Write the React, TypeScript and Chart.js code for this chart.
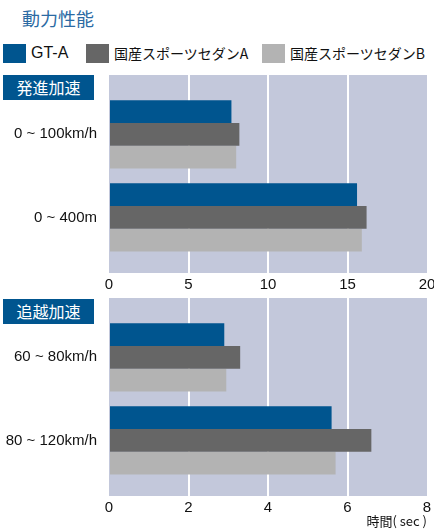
import React, { useEffect, useRef } from "react";
import { Chart, registerables } from "chart.js";

Chart.register(...registerables);

// Series names and colours
const seriesNames = ["GT-A", "国産スポーツセダンA", "国産スポーツセダンB"];
const seriesColors = ["#00558f", "#666666", "#b3b3b3"];

// 発進加速 (sec)
const startLabels = ["0 ~ 100km/h", "0 ~ 400m"];
const startGTA = [7.7, 15.6];
const startSedanA = [8.2, 16.2];
const startSedanB = [8.0, 15.9];
const startTicksMax = 20;
const startTickStep = 5;

// 追越加速 (sec)
const passLabels = ["60 ~ 80km/h", "80 ~ 120km/h"];
const passGTA = [2.9, 5.6];
const passSedanA = [3.3, 6.6];
const passSedanB = [2.95, 5.7];
const passTicksMax = 8;
const passTickStep = 2;

// Index-axis range: leaves the uneven margins above and below the two groups
const INDEX_MIN = -0.715;
const INDEX_MAX = 1.67;

const FONT = "'Liberation Sans', 'Noto Sans CJK JP', sans-serif";
const JP_FONT = "'Noto Sans CJK JP', 'Liberation Sans', sans-serif";

const plotBackground = {
  id: "plotBackground",
  beforeDraw(chart: any) {
    const { ctx, chartArea } = chart;
    ctx.save();
    ctx.fillStyle = "#c3c8db";
    ctx.fillRect(chartArea.left, chartArea.top, chartArea.right - chartArea.left, chartArea.bottom - chartArea.top);
    ctx.restore();
  },
};

type BarPanelProps = {
  labels: string[];
  series: number[][];
  max: number;
  step: number;
  top: number;
};

function BarPanel({ labels, series, max, step, top }: BarPanelProps) {
  const ref = useRef<HTMLCanvasElement | null>(null);

  useEffect(() => {
    if (!ref.current) return;
    const chart = new Chart(ref.current, {
      type: "bar",
      data: {
        datasets: series.map((vals, s) => ({
          label: seriesNames[s],
          data: vals.map((v, i) => ({ x: v, y: i })),
          backgroundColor: seriesColors[s],
          borderWidth: 0,
          categoryPercentage: 0.82,
          barPercentage: 1.0,
        })),
      },
      options: {
        indexAxis: "y",
        animation: false,
        responsive: false,
        events: [],
        layout: { padding: { top: 0, right: 18, bottom: 0, left: 0 } },
        plugins: { legend: { display: false }, tooltip: { enabled: false } },
        scales: {
          x: {
            type: "linear",
            min: 0,
            max,
            ticks: { stepSize: step, color: "#111", padding: 3, font: { family: FONT, size: 15 } },
            grid: {
              drawTicks: false,
              lineWidth: 2,
              color: (ctx: any) =>
                ctx.tick && (ctx.tick.value === 0 || ctx.tick.value === max) ? "rgba(0,0,0,0)" : "#ffffff",
            },
            border: { display: false },
            afterFit: (scale: any) => {
              scale.height = 22;
            },
          },
          y: {
            type: "linear",
            reverse: true,
            offset: false,
            bounds: "data",
            min: INDEX_MIN,
            max: INDEX_MAX,
            grid: { display: false, drawTicks: false, offset: false },
            border: { display: false },
            ticks: {
              padding: 12,
              color: "#111",
              font: { family: FONT, size: 15 },
              callback: (value: any) => labels[value as number] ?? "",
            },
            afterBuildTicks: (scale: any) => {
              scale.ticks = labels.map((_, i) => ({ value: i }));
              scale.min = INDEX_MIN;
              scale.max = INDEX_MAX;
            },
            afterFit: (scale: any) => {
              scale.width = 109;
              scale.paddingTop = 0;
              scale.paddingBottom = 0;
            },
          },
        },
      } as any,
      plugins: [plotBackground],
    });
    return () => chart.destroy();
  }, [labels, series, max, step]);

  return (
    <canvas
      ref={ref}
      width={445}
      height={220}
      style={{ position: "absolute", left: 0, top, width: 445, height: 220 }}
    />
  );
}

function SectionTag({ text, top }: { text: string; top: number }) {
  return (
    <div
      style={{
        position: "absolute",
        left: 3,
        top,
        width: 91,
        height: 25,
        background: "#00558f",
        color: "#ffffff",
        fontFamily: JP_FONT,
        fontSize: 16,
        lineHeight: "25px",
        textAlign: "center",
      }}
    >
      {text}
    </div>
  );
}

const legendSwatchX = [3, 86, 262];

export default function App() {
  return (
    <div
      style={{
        position: "absolute",
        left: 0,
        top: 0,
        width: 434,
        height: 529,
        overflow: "hidden",
        background: "#ffffff",
        fontFamily: FONT,
      }}
    >
      <div
        style={{
          position: "absolute",
          left: 22,
          top: 5,
          fontFamily: JP_FONT,
          fontSize: 18,
          lineHeight: "26px",
          color: "#2b6aa3",
        }}
      >
        動力性能
      </div>

      {seriesNames.map((name, i) => (
        <React.Fragment key={name}>
          <div
            style={{
              position: "absolute",
              left: legendSwatchX[i],
              top: 44,
              width: 23,
              height: 19,
              background: seriesColors[i],
            }}
          />
          <div
            style={{
              position: "absolute",
              left: legendSwatchX[i] + 28,
              top: 43,
              height: 20,
              lineHeight: "20px",
              fontSize: i === 0 ? 16 : 14,
              fontFamily: i === 0 ? FONT : JP_FONT,
              color: "#111",
              whiteSpace: "nowrap",
            }}
          >
            {name}
          </div>
        </React.Fragment>
      ))}

      <BarPanel
        labels={startLabels}
        series={[startGTA, startSedanA, startSedanB]}
        max={startTicksMax}
        step={startTickStep}
        top={75}
      />
      <SectionTag text="発進加速" top={75} />

      <BarPanel
        labels={passLabels}
        series={[passGTA, passSedanA, passSedanB]}
        max={passTicksMax}
        step={passTickStep}
        top={298}
      />
      <SectionTag text="追越加速" top={299} />

      <div
        style={{
          position: "absolute",
          right: 7,
          top: 513,
          fontFamily: JP_FONT,
          fontSize: 13,
          lineHeight: "16px",
          color: "#111",
          whiteSpace: "nowrap",
        }}
      >
        時間( sec )
      </div>
    </div>
  );
}
